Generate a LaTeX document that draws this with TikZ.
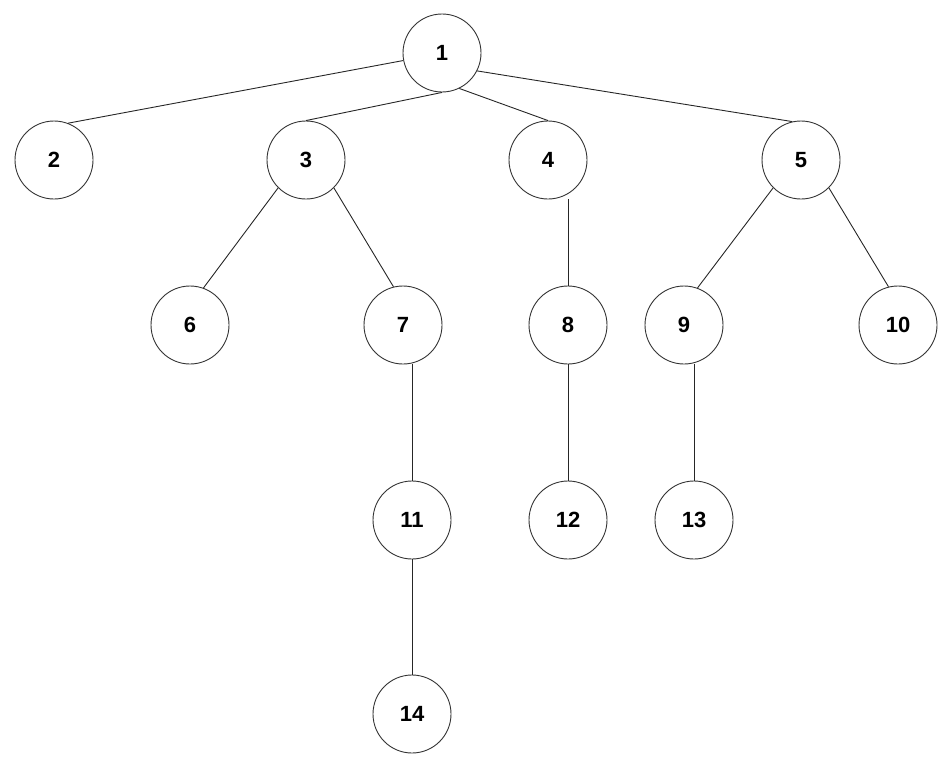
\documentclass[tikz,border=0pt]{standalone}
\usepackage{fontspec}
\setmainfont{Liberation Sans}
\usepackage{tikz}
\usetikzlibrary{positioning, calc}

\newcommand{\vertfont}{\fontsize{22pt}{26pt}\selectfont\bfseries}

\begin{document}
\begin{tikzpicture}[
  x=1pt, y=-1pt,
  vert/.style={circle, draw=black!80, line width=0.9pt, minimum size=78pt, inner sep=0pt,
               font=\vertfont},
  edge/.style={black!85, line width=0.9pt},
]
  \useasboundingbox (0,0) rectangle (952,768);

  % Level 0 and 1
  \node[vert] (n1) at (442,53) {1};
  \node[vert] (n2) at (54,160) {2};
  \node[vert] (n3) at (306,160) {3};
  \node[vert] (n4) at (548,160) {4};
  \node[vert] (n5) at (801,160) {5};

  % Level 2
  \node[vert] (n6) at (190,325) {6};
  \node[vert] (n7) at (403,325) {7};
  \node[vert] (n8) at (568,325) {8};
  \node[vert] (n9) at (684,325) {9};
  \node[vert] (n10) at (898,325) {10};

  % Level 3 and 4
  \node[vert] (n11) at (412,520) {11};
  \node[vert] (n12) at (568,520) {12};
  \node[vert] (n13) at (694,520) {13};
  \node[vert] (n14) at (412,714) {14};

  % Slanted edges
  \foreach \a/\b in {n1.191/n2.69, n1.south/n3.north, n1.-64/n4.north, n1.-27/n5.103,
                     n3.south west/n6.70, n3.south east/n7.104,
                     n5.south west/n9.70, n5.south east/n10.104} { \draw[edge] (\a) -- (\b); }
  % Straight down edges
  \foreach \a/\b in {n4/n8, n7/n11, n8/n12, n9/n13, n11/n14} { \draw[edge] (\b.north) -- (\b.north |- \a.south); }
\end{tikzpicture}
\end{document}
